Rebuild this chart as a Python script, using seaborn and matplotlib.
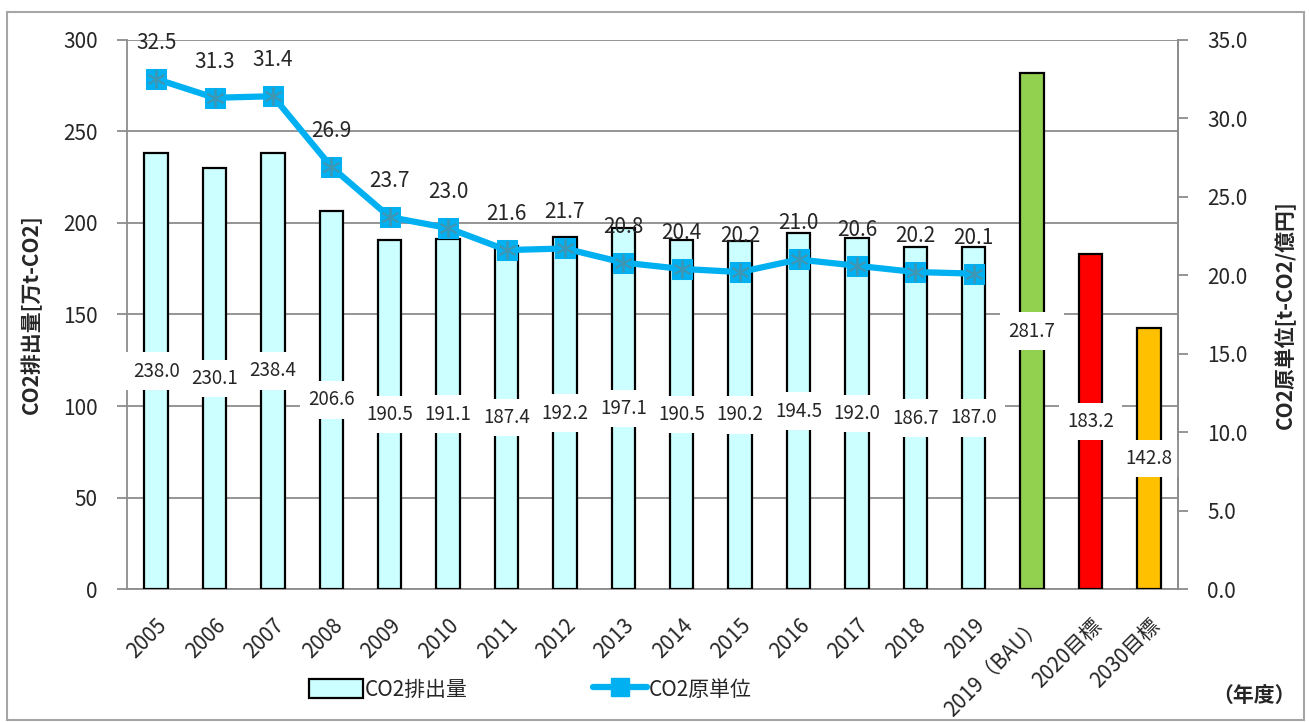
import numpy as np
import pandas as pd
import matplotlib
matplotlib.use("Agg")
import matplotlib.pyplot as plt
import seaborn as sns
from matplotlib.patches import Patch, Rectangle
from matplotlib.lines import Line2D

years = ["2005", "2006", "2007", "2008", "2009", "2010", "2011", "2012", "2013",
         "2014", "2015", "2016", "2017", "2018", "2019",
         "2019（BAU）", "2020目標", "2030目標"]
emissions = [238.0, 230.1, 238.4, 206.6, 190.5, 191.1, 187.4, 192.2, 197.1,
             190.5, 190.2, 194.5, 192.0, 186.7, 187.0, 281.7, 183.2, 142.8]
intensity = [32.5, 31.3, 31.4, 26.9, 23.7, 23.0, 21.6, 21.7, 20.8,
             20.4, 20.2, 21.0, 20.6, 20.2, 20.1]
bar_colors = ["#CCFFFF"] * 15 + ["#92D050", "#FF0000", "#FFC000"]

sns.set_style("white")
plt.rcParams['font.family'] = ['Noto Sans CJK JP', 'DejaVu Sans']
GRID = "#8C8C8C"
LINE = "#00B0F0"

fig = plt.figure(figsize=(13.09, 7.22), dpi=100)
fig.patches.append(Rectangle((0.005, 0.003), 0.991, 0.98, transform=fig.transFigure,
                             fill=False, edgecolor="#A6A6A6", linewidth=1.5))
ax = fig.add_axes([0.097, 0.184, 0.803, 0.761])

df = pd.DataFrame({"year": years, "co2": emissions})
sns.barplot(data=df, x="year", y="co2", hue="year", palette=bar_colors, legend=False,
            saturation=1, width=0.4, edgecolor="black", linewidth=1.6, ax=ax, zorder=3)
ax.set_ylim(0, 300)
ax.set_xlim(-0.5, len(years) - 0.5)
ax.set_yticks(np.arange(0, 301, 50))
ax.yaxis.grid(True, color=GRID, linewidth=1.3, zorder=0)
ax.set_axisbelow(True)
ax.set_xlabel("")
ax.set_ylabel("CO2排出量[万t-CO2]", fontsize=15, fontweight="bold")
ax.yaxis.set_label_coords(-0.081, 0.5)

# category boundary ticks
ax.set_xticks(np.arange(-0.5, len(years), 1), minor=True)
ax.tick_params(axis="x", which="minor", length=7, color=GRID, width=1.3)
ax.tick_params(axis="x", which="major", length=0, pad=18)
ax.tick_params(axis="y", length=7, color=GRID, width=1.3, labelsize=15, pad=14)
ax.set_xticks(range(len(years)))
ax.set_xticklabels(years, rotation=45, ha="right", rotation_mode="anchor", fontsize=15)
ax.spines["top"].set_visible(False)
for s in ["left", "bottom", "right"]:
    ax.spines[s].set_color(GRID)
    ax.spines[s].set_linewidth(1.3)

for i, v in enumerate(emissions):
    ax.text(i, v / 2, f"{v:.1f}", ha="center", va="center", fontsize=13.5, zorder=5,
            bbox=dict(facecolor="white", edgecolor="none", pad=6))

ax2 = ax.twinx()
sns.lineplot(x=np.arange(len(intensity)), y=intensity, color=LINE, linewidth=4.5,
             marker="s", markersize=15, markeredgecolor=LINE, ax=ax2, zorder=4)
ax2.plot(np.arange(len(intensity)), intensity, linestyle="none", marker=(6, 2, 0),
         markersize=13, markeredgecolor="#3C96B4", markeredgewidth=1.3, zorder=5)
ax2.set_ylim(0, 35)
ax2.set_yticks(np.arange(0, 35.1, 5))
ax2.set_yticklabels([f"{t:.1f}" for t in np.arange(0, 35.1, 5)])
ax2.tick_params(axis="y", length=7, color=GRID, width=1.3, labelsize=15, pad=14)
ax2.set_ylabel("CO2原単位[t-CO2/億円]", fontsize=15, fontweight="bold")
ax2.yaxis.set_label_coords(1.092, 0.5)
for s in ["top", "left", "bottom"]:
    ax2.spines[s].set_visible(False)
ax2.spines["right"].set_color(GRID)
ax2.spines["right"].set_linewidth(1.3)

for i, v in enumerate(intensity):
    ax2.annotate(f"{v:.1f}", (i, v), xytext=(0, 26), textcoords="offset points",
                 ha="center", va="center", fontsize=15, zorder=6)

handles = [Patch(facecolor="#CCFFFF", edgecolor="black", linewidth=1.6),
           Line2D([0], [0], color=LINE, linewidth=4.5, marker="s", markersize=13,
                  markeredgecolor=LINE)]
fig.legend(handles, ["CO2排出量", "CO2原単位"], loc="center", ncol=2,
           bbox_to_anchor=(0.405, 0.045), frameon=False, fontsize=15,
           handlelength=2.6, handleheight=1.0, columnspacing=6.0, handletextpad=0.1)
fig.text(0.958, 0.037, "（年度）", ha="center", va="center", fontsize=15, fontweight="bold")

fig.savefig("out.png", dpi=100)
